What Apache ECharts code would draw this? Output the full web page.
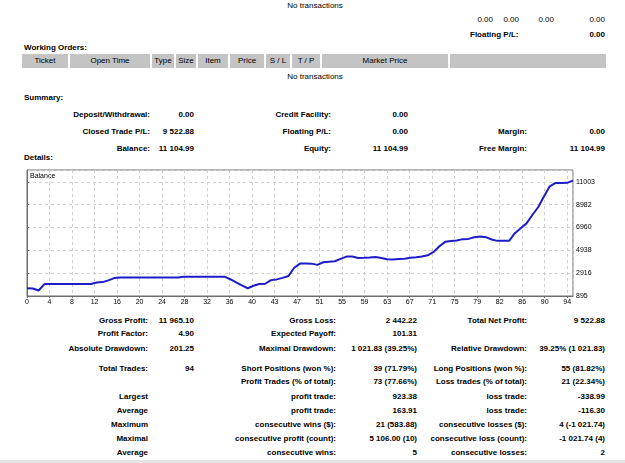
<!DOCTYPE html>
<html>
<head>
<meta charset="utf-8">
<script src="https://cdn.jsdelivr.net/npm/echarts@6/dist/echarts.min.js"></script>
<style>
    body {
        margin: 0;
        width: 625px;
        height: 463px;
        overflow: hidden;
        background: #fff;
        position: relative;
        font-family: "Liberation Sans", Arial, sans-serif;
        font-size: 8px;
        color: #000;
    }
    .t {
        position: absolute;
        height: 10px;
        line-height: 10px;
        white-space: nowrap;
    }
    .b { font-weight: bold; }
    .r { text-align: right; }
    .c { text-align: center; }
    .hdr {
        position: absolute;
        top: 54px;
        height: 14px;
        line-height: 14px;
        background: #c4c4c4;
        text-align: center;
        white-space: nowrap;
    }
    #chart {
        position: absolute;
        left: 0;
        top: 160px;
        width: 625px;
        height: 155px;
    }
    .foot {
        position: absolute;
        left: 0;
        top: 460px;
        width: 625px;
        height: 3px;
        background: #e4e4e4;
    }
</style>
</head>
<body>
<!-- top block -->
<div class="t c" style="left:265px;width:100px;top:1px">No transactions</div>
<div class="t r" style="right:132px;top:15px">0.00</div>
<div class="t r" style="right:106px;top:15px">0.00</div>
<div class="t r" style="right:71px;top:15px">0.00</div>
<div class="t r" style="right:20px;top:15px">0.00</div>
<div class="t b" style="left:470px;top:30px">Floating P/L:</div>
<div class="t b r" style="right:20px;top:30px">0.00</div>

<!-- working orders -->
<div class="t b" style="left:24px;top:43px">Working Orders:</div>
<div class="hdr" style="left:22px;width:46px">Ticket</div>
<div class="hdr" style="left:70px;width:80px">Open Time</div>
<div class="hdr" style="left:152px;width:22px">Type</div>
<div class="hdr" style="left:176px;width:20px">Size</div>
<div class="hdr" style="left:198px;width:30px">Item</div>
<div class="hdr" style="left:230px;width:34px">Price</div>
<div class="hdr" style="left:266px;width:24px">S / L</div>
<div class="hdr" style="left:292px;width:28px">T / P</div>
<div class="hdr" style="left:322px;width:126px">Market Price</div>
<div class="hdr" style="left:450px;width:156px"></div>
<div class="t c" style="left:265px;width:100px;top:72px">No transactions</div>

<!-- summary -->
<div class="t b" style="left:24px;top:93px">Summary:</div>
<div class="t b r" style="right:475px;top:110px">Deposit/Withdrawal:</div>
<div class="t b r" style="right:431px;top:110px">0.00</div>
<div class="t b r" style="right:294px;top:110px">Credit Facility:</div>
<div class="t b r" style="right:217px;top:110px">0.00</div>

<div class="t b r" style="right:475px;top:127px">Closed Trade P/L:</div>
<div class="t b r" style="right:431px;top:127px">9 522.88</div>
<div class="t b r" style="right:294px;top:127px">Floating P/L:</div>
<div class="t b r" style="right:217px;top:127px">0.00</div>
<div class="t b r" style="right:98px;top:127px">Margin:</div>
<div class="t b r" style="right:20px;top:127px">0.00</div>

<div class="t b r" style="right:475px;top:144px">Balance:</div>
<div class="t b r" style="right:431px;top:144px">11 104.99</div>
<div class="t b r" style="right:294px;top:144px">Equity:</div>
<div class="t b r" style="right:217px;top:144px">11 104.99</div>
<div class="t b r" style="right:98px;top:144px">Free Margin:</div>
<div class="t b r" style="right:20px;top:144px">11 104.99</div>

<div class="t b" style="left:24px;top:153px">Details:</div>

<div id="chart"></div>

<!-- details -->
<div class="t b r" style="right:477px;top:316px">Gross Profit:</div>
<div class="t b r" style="right:431px;top:316px">11 965.10</div>
<div class="t b r" style="right:289px;top:316px">Gross Loss:</div>
<div class="t b r" style="right:208px;top:316px">2 442.22</div>
<div class="t b r" style="right:98px;top:316px">Total Net Profit:</div>
<div class="t b r" style="right:20px;top:316px">9 522.88</div>

<div class="t b r" style="right:477px;top:329px">Profit Factor:</div>
<div class="t b r" style="right:431px;top:329px">4.90</div>
<div class="t b r" style="right:289px;top:329px">Expected Payoff:</div>
<div class="t b r" style="right:208px;top:329px">101.31</div>

<div class="t b r" style="right:477px;top:344px">Absolute Drawdown:</div>
<div class="t b r" style="right:431px;top:344px">201.25</div>
<div class="t b r" style="right:289px;top:344px">Maximal Drawdown:</div>
<div class="t b r" style="right:208px;top:344px">1 021.83 (39.25%)</div>
<div class="t b r" style="right:98px;top:344px">Relative Drawdown:</div>
<div class="t b r" style="right:20px;top:344px">39.25% (1 021.83)</div>

<div class="t b r" style="right:477px;top:364px">Total Trades:</div>
<div class="t b r" style="right:431px;top:364px">94</div>
<div class="t b r" style="right:289px;top:364px">Short Positions (won %):</div>
<div class="t b r" style="right:208px;top:364px">39 (71.79%)</div>
<div class="t b r" style="right:98px;top:364px">Long Positions (won %):</div>
<div class="t b r" style="right:20px;top:364px">55 (81.82%)</div>

<div class="t b r" style="right:289px;top:377px">Profit Trades (% of total):</div>
<div class="t b r" style="right:208px;top:377px">73 (77.66%)</div>
<div class="t b r" style="right:98px;top:377px">Loss trades (% of total):</div>
<div class="t b r" style="right:20px;top:377px">21 (22.34%)</div>

<div class="t b r" style="right:477px;top:392px">Largest</div>
<div class="t b r" style="right:289px;top:392px">profit trade:</div>
<div class="t b r" style="right:208px;top:392px">923.38</div>
<div class="t b r" style="right:98px;top:392px">loss trade:</div>
<div class="t b r" style="right:20px;top:392px">-338.99</div>

<div class="t b r" style="right:477px;top:406px">Average</div>
<div class="t b r" style="right:289px;top:406px">profit trade:</div>
<div class="t b r" style="right:208px;top:406px">163.91</div>
<div class="t b r" style="right:98px;top:406px">loss trade:</div>
<div class="t b r" style="right:20px;top:406px">-116.30</div>

<div class="t b r" style="right:477px;top:420px">Maximum</div>
<div class="t b r" style="right:289px;top:420px">consecutive wins ($):</div>
<div class="t b r" style="right:208px;top:420px">21 (583.88)</div>
<div class="t b r" style="right:98px;top:420px">consecutive losses ($):</div>
<div class="t b r" style="right:20px;top:420px">4 (-1 021.74)</div>

<div class="t b r" style="right:477px;top:434px">Maximal</div>
<div class="t b r" style="right:289px;top:434px">consecutive profit (count):</div>
<div class="t b r" style="right:208px;top:434px">5 106.00 (10)</div>
<div class="t b r" style="right:98px;top:434px">consecutive loss (count):</div>
<div class="t b r" style="right:20px;top:434px">-1 021.74 (4)</div>

<div class="t b r" style="right:477px;top:448px">Average</div>
<div class="t b r" style="right:289px;top:448px">consecutive wins:</div>
<div class="t b r" style="right:208px;top:448px">5</div>
<div class="t b r" style="right:98px;top:448px">consecutive losses:</div>
<div class="t b r" style="right:20px;top:448px">2</div>

<div class="foot"></div>

<script>
// balance after each trade (trade 0 = starting balance)
var balance = [
    1582.11, 1560, 1381, 1950, 1950, 1950, 1950, 1950, 1950, 1950,
    1950, 1955, 2097, 2124, 2275, 2480, 2530, 2530, 2530, 2530,
    2530, 2530, 2530, 2530, 2530, 2530, 2535, 2590, 2590, 2590,
    2590, 2590, 2595, 2600, 2603.4, 2380, 2100, 1830, 1581.6, 1800,
    1960, 1980, 2300, 2364, 2500, 2658, 3400, 3762, 3770, 3760,
    3650, 3880, 3930, 3967, 4180, 4386, 4390, 4260, 4270, 4300,
    4350, 4250, 4140, 4120, 4170, 4200, 4270, 4320, 4386, 4500,
    4795, 5300, 5686, 5760, 5800, 5926, 5950, 6100, 6160, 6100,
    5900, 5775, 5775, 5780, 6450, 6900, 7324, 8063, 8750, 9700,
    10600, 10900, 10900, 10910, 11104.99
];

// tick labels as printed by the terminal
var xLabels = ["0", "4", "8", "12", "16", "20", "24", "28", "32", "36", "40", "43",
    "47", "51", "55", "59", "63", "67", "71", "75", "79", "82", "86", "90", "94"];
var yLabels = ["895", "2916", "4938", "6960", "8982", "11003"];

var yBase = 895;
var yStep = (11003 - 895) / 5;
var xStep = 93 / 24;

var chart = echarts.init(document.getElementById("chart"));
chart.setOption({
    animation: false,
    grid: {
        left: 27,
        top: 10,
        width: 546,
        height: 126,
        show: true,
        borderColor: "#6e6e6e",
        borderWidth: 1,
    },
    graphic: [
        {
            type: "text",
            left: 30,
            top: 13,
            style: {
                text: "Balance",
                font: "7px 'Liberation Sans', Arial, sans-serif",
                fill: "#000",
            },
        },
    ],
    xAxis: {
        type: "value",
        min: 0,
        max: 94,
        interval: xStep,
        axisLine: { show: true, lineStyle: { color: "#6e6e6e" } },
        axisTick: { show: true, length: 2, lineStyle: { color: "#6e6e6e" } },
        splitLine: {
            show: true,
            lineStyle: { color: "#cfcfcf", type: [3, 3] },
        },
        axisLabel: {
            fontSize: 7,
            fontFamily: "Liberation Sans",
            color: "#000",
            margin: 3,
            showMaxLabel: false,
            formatter: function (v) {
                var k = Math.round(v / xStep);
                if (Math.abs(v - k * xStep) > 0.01) return "";
                return xLabels[k] || "";
            },
        },
    },
    yAxis: {
        type: "value",
        position: "right",
        min: 0,
        max: 11151,
        interval: yStep,
        axisLine: { show: true, lineStyle: { color: "#6e6e6e" } },
        axisTick: { show: true, length: 2, lineStyle: { color: "#6e6e6e" } },
        splitLine: {
            show: true,
            lineStyle: { color: "#cfcfcf", type: [3, 3] },
        },
        axisLabel: {
            fontSize: 7,
            fontFamily: "Liberation Sans",
            color: "#000",
            margin: 3,
            showMaxLabel: false,
            formatter: function (v) {
                var k = Math.round(v / yStep);
                if (Math.abs(v - k * yStep) > 0.5) return "";
                return yLabels[k] || "";
            },
        },
    },
    series: [
        {
            type: "line",
            showSymbol: false,
            silent: true,
            lineStyle: { color: "#1c1cc8", width: 2 },
            data: balance.map(function (v, i) {
                return [i, v - yBase];
            }),
        },
    ],
});
</script>
</body>
</html>
